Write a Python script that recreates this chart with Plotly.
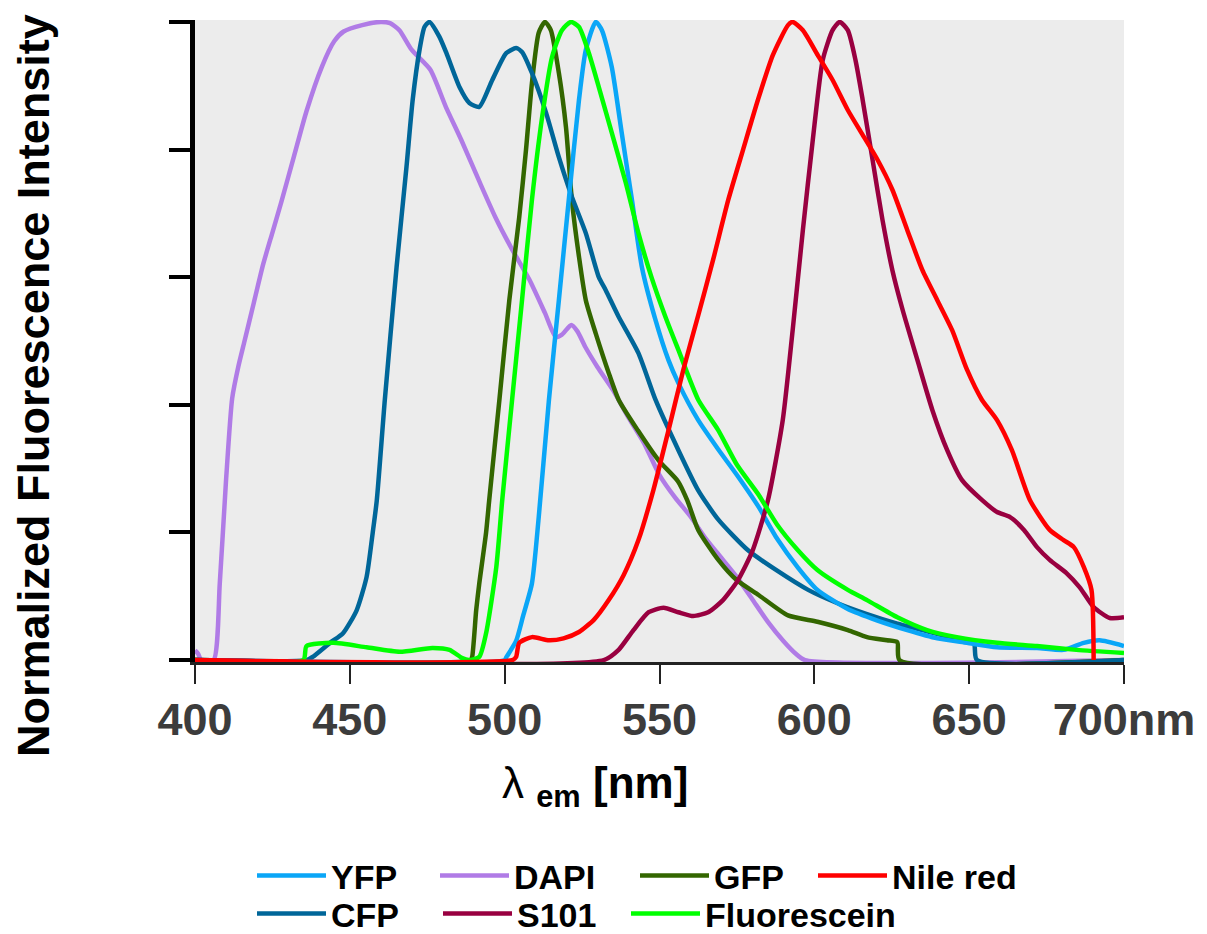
import plotly.graph_objects as go

# ---- data (wavelength nm, normalized intensity) ----
yfp_nm = [400, 500, 500.6, 503.7, 506, 508.8, 511, 514.3, 517.5, 520.7, 524, 526.2, 529.4, 531.4, 534.6,
          537.8, 541.1, 544.3, 548.7, 552.9, 556.1, 562.5, 569, 575, 582, 588, 594.7, 601, 610.8, 620.4,
          630, 639.7, 649.3, 659, 671.9, 680.5, 687, 692.1, 700]
yfp_val = [0, 0, 0.005, 0.03, 0.07, 0.12, 0.224, 0.408, 0.564, 0.721, 0.878, 0.956, 1.0, 0.987, 0.929,
           0.826, 0.721, 0.616, 0.533, 0.47, 0.434, 0.376, 0.33, 0.29, 0.24, 0.19, 0.145, 0.11, 0.08, 0.062,
           0.047, 0.034, 0.027, 0.02, 0.019, 0.016, 0.027, 0.031, 0.022]

dapi_nm = [400, 401, 402, 406, 408, 410, 412, 414, 416, 419, 422, 425, 428, 432, 436, 441, 445, 448, 454,
           460, 463, 466, 470, 476, 481, 486, 492, 497, 502, 508, 513, 516.5, 518.5, 521.5, 523.5, 526,
           530, 535, 540, 545, 550, 555, 560, 565, 570, 575, 580, 585, 590, 594, 597, 700]
dapi_val = [0.015, 0.01, 0, 0, 0.12, 0.28, 0.41, 0.46, 0.5, 0.56, 0.62, 0.67, 0.72, 0.79, 0.86, 0.93, 0.97,
            0.985, 0.995, 1.0, 0.998, 0.987, 0.956, 0.925, 0.867, 0.815, 0.748, 0.694, 0.647, 0.596, 0.544,
            0.506, 0.51, 0.525, 0.515, 0.491, 0.459, 0.423, 0.38, 0.34, 0.29, 0.255, 0.225, 0.19, 0.16,
            0.13, 0.095, 0.06, 0.03, 0.01, 0, 0]

gfp_nm = [400, 489, 489.5, 490.8, 491.8, 494, 495, 498.3, 501.5, 504.7, 506.9, 508.8, 511, 513, 514.9,
          517.5, 519.8, 521.7, 524, 526.2, 529.4, 533.6, 536.8, 543, 549.7, 556, 559, 562.5, 569, 575, 582,
          591.5, 601, 610.8, 617, 623.5, 626.8, 627.5, 700]
gfp_val = [0, 0, 0.005, 0.078, 0.12, 0.2, 0.25, 0.408, 0.564, 0.694, 0.8, 0.904, 0.983, 1.0, 0.987, 0.92,
           0.835, 0.721, 0.632, 0.564, 0.512, 0.45, 0.408, 0.36, 0.313, 0.28, 0.25, 0.204, 0.157, 0.125,
           0.102, 0.07, 0.06, 0.047, 0.036, 0.031, 0.028, 0, 0]

nile_nm = [400, 502.5, 503.7, 504.7, 508.8, 514.3, 519, 524, 528.8, 533.6, 538.4, 543.2, 548, 552.9, 557.7,
           562.5, 567.3, 572.2, 577, 581.8, 586.6, 591.5, 593, 596.3, 601.1, 605.9, 610.8, 615.6, 620.4,
           625.2, 630, 634.9, 639.7, 644.5, 649.3, 654.1, 659, 663.8, 669.6, 676, 680.5, 683.8, 687, 689.5,
           690.2]
nile_val = [0, 0, 0.005, 0.027, 0.036, 0.031, 0.034, 0.044, 0.063, 0.094, 0.133, 0.188, 0.266, 0.36, 0.455,
            0.54, 0.627, 0.721, 0.8, 0.878, 0.948, 0.995, 1.0, 0.987, 0.948, 0.909, 0.862, 0.823, 0.784,
            0.737, 0.674, 0.611, 0.564, 0.517, 0.455, 0.408, 0.376, 0.329, 0.251, 0.204, 0.188, 0.177,
            0.146, 0.11, 0.0]

cfp_nm = [400, 436, 438, 443.6, 447.8, 452.2, 455.4, 457.4, 458.7, 461.3, 465.1, 468.3, 470.3, 472.5, 474.1,
          475.7, 478.9, 481.2, 485.4, 488.6, 491.8, 496, 500.5, 503.7, 505.6, 508.8, 513.4, 517.5, 521.7,
          526.2, 530.4, 532.6, 536.8, 543.2, 548.7, 556, 562.5, 569, 578.6, 588, 598, 607.5, 617, 626.8,
          636.4, 646, 651.5, 652.5, 700]
cfp_val = [0, 0, 0.005, 0.027, 0.042, 0.078, 0.13, 0.2, 0.25, 0.408, 0.616, 0.773, 0.878, 0.956, 0.992, 1.0,
           0.977, 0.951, 0.898, 0.873, 0.867, 0.909, 0.951, 0.959, 0.953, 0.92, 0.857, 0.788, 0.726, 0.669,
           0.6, 0.58, 0.538, 0.481, 0.408, 0.33, 0.266, 0.22, 0.172, 0.14, 0.11, 0.089, 0.072, 0.057, 0.045,
           0.033, 0.027, 0, 0]

s101_nm = [400, 532, 536.8, 541.6, 546.5, 551.3, 556.1, 560.9, 565.7, 570.5, 575.3, 580.1, 585, 589.8, 593,
           596.3, 599.5, 602.7, 605.9, 608.2, 610.8, 613.3, 615.6, 618.8, 622, 625.2, 628.5, 633.3, 638.1,
           642.9, 647.7, 654.1, 659, 663.2, 667.7, 671.9, 676, 681.5, 685.7, 690.2, 695.4, 700]
s101_val = [0, 0, 0.016, 0.047, 0.075, 0.082, 0.075, 0.069, 0.075, 0.094, 0.125, 0.172, 0.25, 0.376, 0.517,
            0.674, 0.815, 0.94, 0.987, 1.0, 0.987, 0.94, 0.878, 0.784, 0.69, 0.611, 0.549, 0.47, 0.392,
            0.329, 0.282, 0.251, 0.232, 0.224, 0.204, 0.177, 0.157, 0.136, 0.114, 0.083, 0.066, 0.067]

fluo_nm = [400, 435, 436, 444.6, 455.4, 466.1, 476.7, 482.2, 486.3, 488.5, 491.8, 494, 497.3, 499.2, 502.4,
           505.6, 508.8, 512.1, 515.3, 518.5, 521.4, 524, 527.2, 530.4, 534.6, 539.1, 543.2, 547.4, 551.9,
           556.1, 562.5, 569, 575, 582, 588, 594.7, 601, 610.8, 617, 626.8, 636.4, 646, 659, 671.9, 684.6,
           700]
fluo_val = [0, 0, 0.022, 0.027, 0.02, 0.013, 0.019, 0.016, 0.003, 0, 0.005, 0.042, 0.146, 0.25, 0.408,
            0.564, 0.721, 0.851, 0.945, 0.987, 1.0, 0.992, 0.951, 0.898, 0.826, 0.748, 0.669, 0.6, 0.538,
            0.486, 0.408, 0.36, 0.306, 0.259, 0.212, 0.172, 0.141, 0.11, 0.094, 0.067, 0.047, 0.036, 0.027,
            0.022, 0.016, 0.011]

x_tickvals = [400, 450, 500, 550, 600, 650, 700]
x_ticktext = ["400", "450", "500", "550", "600", "650", "700nm"]
y_tickvals = [0, 0.2, 0.4, 0.6, 0.8, 1.0]

FONT = "Liberation Sans, Arial, sans-serif"
W, H = 1199, 926  # page has an 8px body margin

# name, x, y, color, legend id, legend left (fig px), legend row center (fig px)
series = [
    ("DAPI", dapi_nm, dapi_val, "#b07be6", "legend2", 427, 868),
    ("GFP", gfp_nm, gfp_val, "#336600", "legend3", 627, 868),
    ("CFP", cfp_nm, cfp_val, "#006699", "legend5", 244, 906),
    ("YFP", yfp_nm, yfp_val, "#0aa6f7", "legend", 244, 868),
    ("S101", s101_nm, s101_val, "#990040", "legend6", 430, 906),
    ("Fluorescein", fluo_nm, fluo_val, "#00ff00", "legend7", 618, 906),
    ("Nile red", nile_nm, nile_val, "#ff0000", "legend4", 805, 868),
]

fig = go.Figure()
legends = {}
for name, xs, ys, col, lg, lx, ly in series:
    fig.add_trace(go.Scatter(
        x=xs, y=ys, mode="lines", name=name,
        line=dict(color=col, width=4.5, shape="spline", smoothing=0.6),
        legend=lg,
    ))
    legends[lg] = dict(
        x=lx / W, y=1 - ly / H,
        orientation="h", xref="container", yref="container",
        xanchor="left", yanchor="middle",
        font=dict(family=FONT, size=34, color="black", weight="bold"),
        itemwidth=69, bgcolor="rgba(0,0,0,0)", itemclick=False,
    )

fig.update_layout(
    width=W, height=H,
    margin=dict(l=187, r=79, t=12, b=272),
    paper_bgcolor="white", plot_bgcolor="#ececec",
    showlegend=True,
    **legends,
    xaxis=dict(
        range=[400, 700], tickvals=x_tickvals, ticktext=x_ticktext,
        showgrid=False, zeroline=False, showline=True, linecolor="#222222", linewidth=2.5,
        ticks="outside", ticklen=19, tickwidth=2, tickcolor="#222222",
        tickfont=dict(family=FONT, size=45, color="#3c3c3c", weight="bold"),
        ticklabelstandoff=-3,
    ),
    yaxis=dict(
        range=[-0.003, 1.003], tickvals=y_tickvals, showticklabels=False,
        showgrid=False, zeroline=False, showline=True, linecolor="black", linewidth=5,
        ticks="outside", ticklen=21, tickwidth=4, tickcolor="black",
    ),
    annotations=[
        dict(text="λ <sub><b>em</b></sub> <b>[nm]</b>", xref="paper", yref="paper",
             x=(597 - 195) / 933, y=(660 - 783) / 638, xanchor="center", yanchor="middle",
             showarrow=False, font=dict(family=FONT, size=44, color="black")),
        dict(text="<b>Normalized Fluorescence Intensity</b>", xref="paper", yref="paper",
             x=(33 - 195) / 933, y=(660 - 385) / 638, xanchor="center", yanchor="middle",
             textangle=-90, showarrow=False, font=dict(family=FONT, size=45, color="black")),
    ],
)

fig.write_html("out.html")
